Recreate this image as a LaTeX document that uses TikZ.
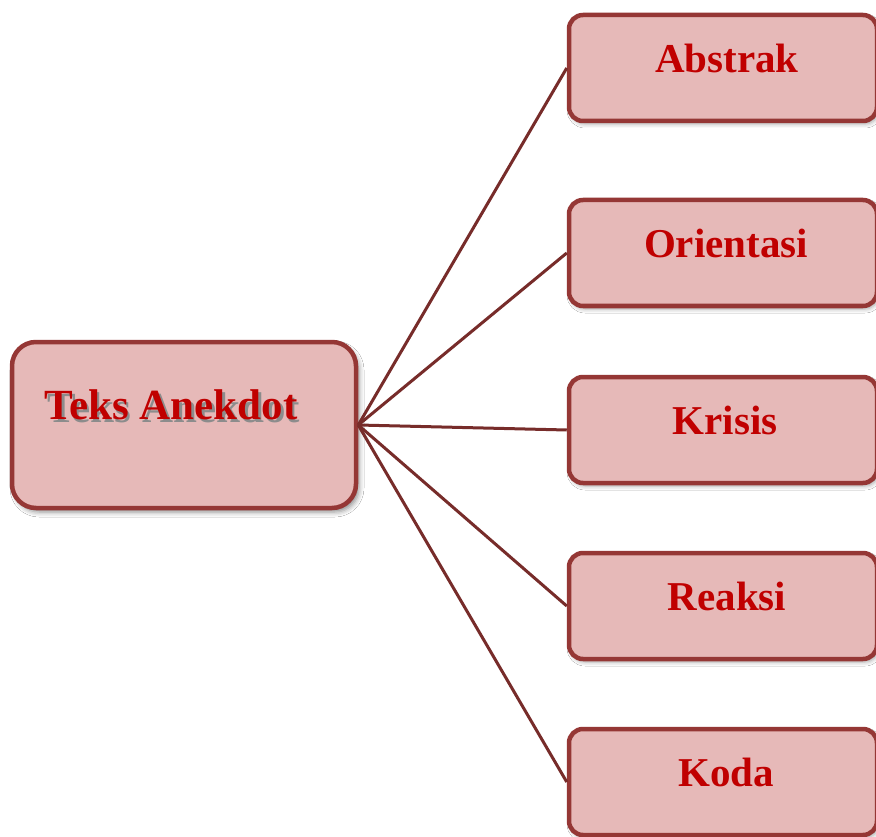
\documentclass[tikz,border=0pt]{standalone}
\usepackage{fontspec}
\setmainfont{Liberation Serif}
\usetikzlibrary{shadows.blur}
\definecolor{boxfill}{HTML}{E6B9B8}
\definecolor{boxborder}{HTML}{953735}
\definecolor{txtred}{HTML}{C00000}
\definecolor{linkcol}{HTML}{772C2A}
\tikzset{
  mainbox/.style={draw=boxborder, fill=boxfill, line width=4.5pt, rounded corners=24pt,
    minimum width=344pt, minimum height=166pt, inner sep=0pt,
    blur shadow={shadow xshift=3pt, shadow yshift=-4pt, shadow blur radius=5pt, shadow opacity=45}},
  childbox/.style={draw=boxborder, fill=boxfill, line width=4.5pt, rounded corners=14pt,
    minimum width=308pt, minimum height=106pt, inner sep=0pt,
    blur shadow={shadow xshift=2pt, shadow yshift=-3pt, shadow blur radius=4pt, shadow opacity=35}},
  maintext/.style={text=txtred, font=\fontsize{43}{50}\selectfont\bfseries, inner sep=0pt},
  mainshade/.style={text=black!45, font=\fontsize{43}{50}\selectfont\bfseries, inner sep=0pt},
  childtext/.style={text=txtred, font=\fontsize{41}{48}\selectfont\bfseries, inner sep=0pt},
  link/.style={draw=linkcol, line width=3pt}
}
\begin{document}
\begin{tikzpicture}[x=1pt,y=-1pt]
\useasboundingbox[fill=white] (0,0) rectangle (876,837);
% boxes
\node[mainbox] (main) at (184,425) {};
\node[childbox] (abstrak) at (723,68) {};
\node[childbox] (orientasi) at (723,253) {};
\node[childbox] (krisis) at (723,430) {};
\node[childbox] (reaksi) at (723,606) {};
\node[childbox] (koda) at (723,782) {};
% connectors
\draw[link] (main.east) -- (abstrak.west);
\draw[link] (main.east) -- (orientasi.west);
\draw[link] (main.east) -- (krisis.west);
\draw[link] (main.east) -- (reaksi.west);
\draw[link] (main.east) -- (koda.west);
% texts
\node[mainshade] (mainshadow) at (173.5,407.5) {Teks Anekdot};
\node[maintext] (maintxt) at (171,405) {Teks Anekdot};
\node[childtext] (t1) at (727,58) {Abstrak};
\node[childtext] (t2) at (726,243) {Orientasi};
\node[childtext] (t3) at (725,420) {Krisis};
\node[childtext] (t4) at (727,596) {Reaksi};
\node[childtext] (t5) at (726,772) {Koda};
\end{tikzpicture}
\end{document}
